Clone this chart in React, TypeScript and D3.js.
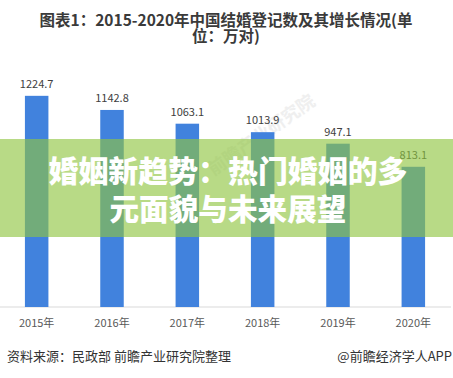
import React from "react";
import * as d3 from "d3";

const years = ["2015年", "2016年", "2017年", "2018年", "2019年", "2020年"];
const values = [1224.7, 1142.8, 1063.1, 1013.9, 947.1, 813.1];
const titleLines = ["图表1：2015-2020年中国结婚登记数及其增长情况(单", "位：万对)"];
const bannerLines = ["婚姻新趋势：热门婚姻的多", "元面貌与未来展望"];
const sourceText = "资料来源：民政部 前瞻产业研究院整理";
const brandText = "@前瞻经济学人APP";
const watermarkText = "前瞻产业研究院";

const W = 453;
const H = 378;
const FONT = "'Noto Sans CJK SC', 'Noto Sans', sans-serif";

export default function App() {
  const x = d3.scalePoint<string>().domain(years).range([-1, 451]).padding(0.5);
  const y = d3.scaleLinear().domain([0, 1400]).range([307, 65.6]);
  const barW = 23.5;

  return (
    <svg width={W} height={H} style={{ position: "absolute", left: 0, top: 0, background: "#fff" }} fontFamily={FONT}>
      <rect x={0} y={0} width={W} height={H} fill="#fff" />
      {titleLines.map((t, i) => (
        <text key={i} x={226} y={26 + i * 16} textAnchor="middle" fontSize={15.5} fontWeight={700} fill="#3a3a3a">
          {t}
        </text>
      ))}
      <text x={265} y={140} textAnchor="middle" fontSize={18} fontWeight={700} fill="#ececec" opacity={0.8} transform="rotate(-35 265 140)">
        {watermarkText}
      </text>
      <line x1={0} x2={451} y1={y(0)} y2={y(0)} stroke="#d9d9d9" strokeWidth={1} />
      {years.map((yr, i) => (
        <g key={yr}>
          <rect x={(x(yr) as number) - barW / 2} y={y(values[i])} width={barW} height={y(0) - y(values[i])} fill="#4182dd" />
          <text x={x(yr)} y={y(values[i]) - 8} textAnchor="middle" fontSize={11} fill="#404040">
            {values[i].toFixed(1)}
          </text>
          <text x={x(yr)} y={327} textAnchor="middle" fontSize={11} fill="#595959">
            {yr}
          </text>
        </g>
      ))}
      <rect x={0} y={139} width={W} height={98} fill="rgb(143,197,63)" fillOpacity={0.63} />
      {bannerLines.map((t, i) => (
        <text key={i} x={228} y={182 + i * 38} textAnchor="middle" fontSize={29.5} fontWeight={900} fill="#ffffff"
          textLength={i === 0 ? 359 : 237} lengthAdjust="spacingAndGlyphs">
          {t}
        </text>
      ))}
      <text x={7} y={361} fontSize={13} fill="#333">
        {sourceText}
      </text>
      <text x={452} y={361} textAnchor="end" fontSize={13} fill="#333">
        {brandText}
      </text>
    </svg>
  );
}
